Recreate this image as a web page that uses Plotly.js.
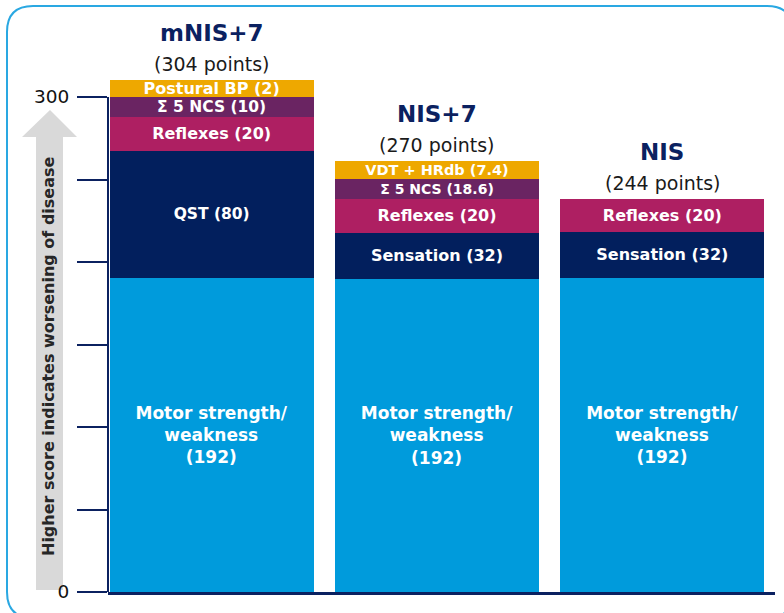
<!DOCTYPE html>
<html>
<head>
<meta charset="utf-8">
<script src="https://cdn.plot.ly/plotly-3.0.1.min.js"></script>
<style>html,body{margin:0;padding:0;background:#fff;}#chart{width:784px;height:613px;}</style>
</head>
<body>
<div id="chart"></div>
<script>
// ---- data (segment heights as drawn, in axis points) ----
const categories = ['mNIS+7', 'NIS+7', 'NIS'];
const pointTotals = ['(304 points)', '(270 points)', '(244 points)'];
const motorVals = [190.3, 189.7, 190.3];
const sensoryVals = [77.0, 27.9, 27.9];
const reflexVals = [20.6, 20.6, 20.0];
const ncsVals = [12.1, 12.1, null];
const topVals = [10.3, 10.9, null];
const motorLabels = ['Motor strength/<br>weakness<br>(192)', 'Motor strength/<br>weakness<br>(192)', 'Motor strength/<br>weakness<br>(192)'];
const sensoryLabels = ['QST (80)', 'Sensation (32)', 'Sensation (32)'];
const reflexLabels = ['Reflexes (20)', 'Reflexes (20)', 'Reflexes (20)'];
const ncsLabels = ['Σ 5 NCS (10)', 'Σ 5 NCS (18.6)', ''];
const topLabels = ['Postural BP (2)', 'VDT + HRdb (7.4)', ''];
const yTickVals = [0, 50, 100, 150, 200, 250, 300];
const yTickText = ['0', '', '', '', '', '', '300'];
const yAxisTitle = 'Higher score indicates worsening of disease';

const FONT = 'DejaVu Sans, Arial, sans-serif';
const NAVY = '#0b2160';
const L = 108, R = 775, T = 15, B = 592;
const px = x => (x - L) / (R - L);
const py = y => (B - y) / (B - T);

function seg(name, vals, labels, color, sizes) {
  return {
    type: 'bar', name: name, x: categories, y: vals, text: labels,
    marker: {color: color, line: {width: 0}},
    textposition: 'inside', insidetextanchor: 'middle', textangle: 0,
    constraintext: 'none',
    textfont: {family: FONT, color: '#ffffff', size: sizes, weight: 'bold'},
    hoverinfo: 'skip', showlegend: false
  };
}

const traces = [
  seg('Motor', motorVals, motorLabels, '#009bdc', [17, 17, 17]),
  seg('Sensory', sensoryVals, sensoryLabels, '#021f5d', [15.5, 16, 16]),
  seg('Reflexes', reflexVals, reflexLabels, '#ae1f62', [16, 16, 16]),
  seg('NCS', ncsVals, ncsLabels, '#6a2462', [15.5, 14, 14]),
  seg('Top', topVals, topLabels, '#eea800', [16, 14.5, 14.5])
];

const totals = categories.map((c, i) =>
  [motorVals, sensoryVals, reflexVals, ncsVals, topVals].reduce((s, a) => s + (a[i] || 0), 0));

const annotations = [];
categories.forEach((c, i) => {
  annotations.push({x: c, y: totals[i], xref: 'x', yref: 'y', text: '<b>' + c + '</b>', showarrow: false,
    yanchor: 'middle', yshift: 47, font: {family: FONT, size: 23, color: NAVY}});
  annotations.push({x: c, y: totals[i], xref: 'x', yref: 'y', text: pointTotals[i], showarrow: false,
    yanchor: 'middle', yshift: 16, font: {family: FONT, size: 19, color: '#1a1a1a'}});
});
annotations.push({x: px(48.5), y: py(356.5), xref: 'paper', yref: 'paper', text: '<b>' + yAxisTitle + '</b>',
  textangle: -90, showarrow: false, xanchor: 'center', yanchor: 'middle',
  font: {family: FONT, size: 16, color: '#262626'}});

// border (rounded rectangle) and grey arrow
const x0 = 7, y0 = 6, x1 = 793, y1 = 618, r = 26;
const P = (x, y) => px(x) + ',' + py(y);
const borderPath = 'M' + P(x0 + r, y0) + ' L' + P(x1 - r, y0) + ' Q' + P(x1, y0) + ' ' + P(x1, y0 + r) +
  ' L' + P(x1, y1 - r) + ' Q' + P(x1, y1) + ' ' + P(x1 - r, y1) + ' L' + P(x0 + r, y1) +
  ' Q' + P(x0, y1) + ' ' + P(x0, y1 - r) + ' L' + P(x0, y0 + r) + ' Q' + P(x0, y0) + ' ' + P(x0 + r, y0) + ' Z';
const arrowPath = 'M' + P(36, 590) + ' L' + P(36, 137) + ' L' + P(22, 137) + ' L' + P(50, 110) +
  ' L' + P(77, 137) + ' L' + P(63, 137) + ' L' + P(63, 590) + ' Z';

const layout = {
  width: 784, height: 613,
  margin: {l: L, r: 784 - R, t: T, b: 613 - B, pad: 0},
  paper_bgcolor: '#ffffff', plot_bgcolor: '#ffffff',
  barmode: 'stack', bargap: 0.095,
  showlegend: false,
  font: {family: FONT},
  xaxis: {type: 'category', range: [-0.46, 2.5], showticklabels: false, ticks: '',
    showgrid: false, zeroline: false, showline: true, linecolor: NAVY, linewidth: 2.5, fixedrange: true},
  yaxis: {range: [0, 349.7], tickvals: yTickVals, ticktext: yTickText, ticks: 'outside', ticklen: 30,
    tickwidth: 2, tickcolor: NAVY, showgrid: false, zeroline: false, showline: false,
    ticklabelstandoff: 4,
    tickfont: {family: FONT, size: 18.5, color: '#111111'}, fixedrange: true},
  shapes: [
    {type: 'path', xref: 'paper', yref: 'paper', path: arrowPath, fillcolor: '#d9d9d9', line: {width: 0}, layer: 'below'},
    {type: 'line', xref: 'paper', yref: 'y', x0: 0, x1: 0, y0: yTickVals[0], y1: yTickVals[yTickVals.length - 1],
      line: {color: NAVY, width: 2}, layer: 'above'},
    {type: 'path', xref: 'paper', yref: 'paper', path: borderPath, fillcolor: 'rgba(0,0,0,0)', line: {color: '#2aa8e2', width: 2}, layer: 'above'}
  ],
  annotations: annotations
};

Plotly.newPlot('chart', traces, layout, {displayModeBar: false, staticPlot: true});
</script>
</body>
</html>
